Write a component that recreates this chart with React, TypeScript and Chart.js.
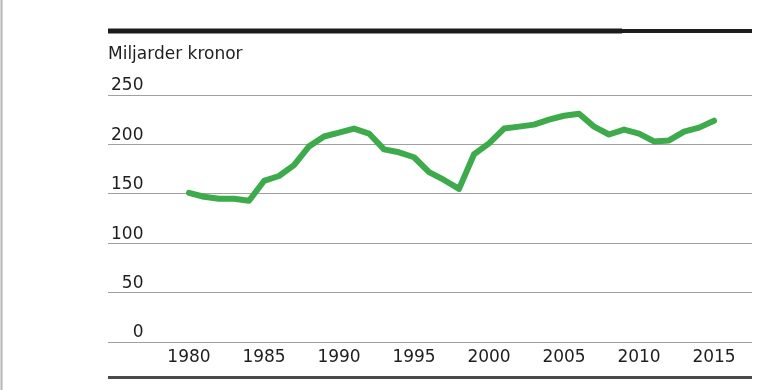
import React, { useEffect, useRef } from "react";
import { Chart, registerables } from "chart.js";

Chart.register(...registerables);

const years: number[] = [
  1980, 1981, 1982, 1983, 1984, 1985, 1986, 1987, 1988, 1989,
  1990, 1991, 1992, 1993, 1994, 1995, 1996, 1997, 1998, 1999,
  2000, 2001, 2002, 2003, 2004, 2005, 2006, 2007, 2008, 2009,
  2010, 2011, 2012, 2013, 2014, 2015,
];
const values: number[] = [
  151, 147, 145, 145, 143, 163, 168, 179, 198, 208,
  212, 216, 211, 195, 192, 187, 172, 164, 155, 190,
  201, 216, 218, 220, 225, 229, 231, 218, 210, 215,
  211, 203, 204, 213, 217, 224,
];
const xTicks: number[] = [1980, 1985, 1990, 1995, 2000, 2005, 2010, 2015];
const yTicks: number[] = [0, 50, 100, 150, 200, 250];
const titleText = "Miljarder kronor";

const FONT = "'DejaVu Sans', 'Liberation Sans', sans-serif";

const decorations = {
  id: "decorations",
  afterDraw(chart: any) {
    const { ctx, chartArea } = chart;
    const { left, right } = chartArea;
    ctx.save();
    // left page border
    ctx.strokeStyle = "#b4b4b4";
    ctx.lineWidth = 2;
    ctx.beginPath();
    ctx.moveTo(1.5, 0);
    ctx.lineTo(1.5, chart.height);
    ctx.stroke();
    // top thick bar
    ctx.strokeStyle = "#1c1c1c";
    ctx.lineWidth = 5;
    ctx.beginPath();
    ctx.moveTo(left, 31);
    ctx.lineTo(622, 31);
    ctx.stroke();
    ctx.lineWidth = 4;
    ctx.beginPath();
    ctx.moveTo(622, 31);
    ctx.lineTo(right, 31);
    ctx.stroke();
    // bottom rule
    ctx.strokeStyle = "#4a4a4a";
    ctx.lineWidth = 3;
    ctx.beginPath();
    ctx.moveTo(left, 377.5);
    ctx.lineTo(right, 377.5);
    ctx.stroke();
    ctx.restore();
  },
};

export default function App() {
  const ref = useRef<HTMLCanvasElement | null>(null);

  useEffect(() => {
    if (!ref.current) return;
    const chart = new Chart(ref.current, {
      type: "line",
      data: {
        datasets: [
          {
            data: years.map((y, i) => ({ x: y, y: values[i] })),
            borderColor: "#3dab4b",
            borderWidth: 6,
            borderJoinStyle: "round",
            borderCapStyle: "round",
            pointRadius: 0,
            tension: 0,
            fill: false,
          },
        ],
      },
      options: {
        animation: false,
        responsive: false,
        maintainAspectRatio: false,
        layout: { padding: { left: 102, right: 28, top: 44, bottom: 17.6 } },
        plugins: {
          legend: { display: false },
          tooltip: { enabled: false },
          title: {
            display: true,
            text: titleText,
            align: "start",
            fullSize: false,
            color: "#1e1e1e",
            font: { family: FONT, size: 17, weight: "normal", lineHeight: 1.2 },
            padding: { top: 0, bottom: 30.6 },
          },
        },
        scales: {
          x: {
            type: "linear",
            min: 1974.6,
            max: 2017.53,
            afterBuildTicks: (scale: any) => {
              scale.ticks = xTicks.map((v) => ({ value: v }));
            },
            grid: { display: false, drawTicks: false },
            border: { display: false },
            ticks: {
              padding: 5,
              color: "#1e1e1e",
              maxRotation: 0,
              autoSkip: false,
              font: { family: FONT, size: 17, lineHeight: 1.2 },
              callback: (v: any) => String(v),
            },
          },
          y: {
            type: "linear",
            min: 0,
            max: 250,
            afterBuildTicks: (scale: any) => {
              scale.ticks = yTicks.map((v) => ({ value: v }));
            },
            grid: { color: "#a0a0a0", lineWidth: 1, drawTicks: false },
            border: { display: false },
            ticks: {
              mirror: true,
              crossAlign: "far",
              padding: 3,
              labelOffset: -9,
              color: "#1e1e1e",
              font: { family: FONT, size: 17, lineHeight: 1.2 },
            },
          },
        },
      },
      plugins: [decorations],
    } as any);
    return () => chart.destroy();
  }, []);

  return (
    <div style={{ position: "absolute", left: 0, top: 0, width: 780, height: 390, background: "#fff" }}>
      <canvas ref={ref} width={780} height={390} style={{ width: 780, height: 390, display: "block" }} />
    </div>
  );
}
